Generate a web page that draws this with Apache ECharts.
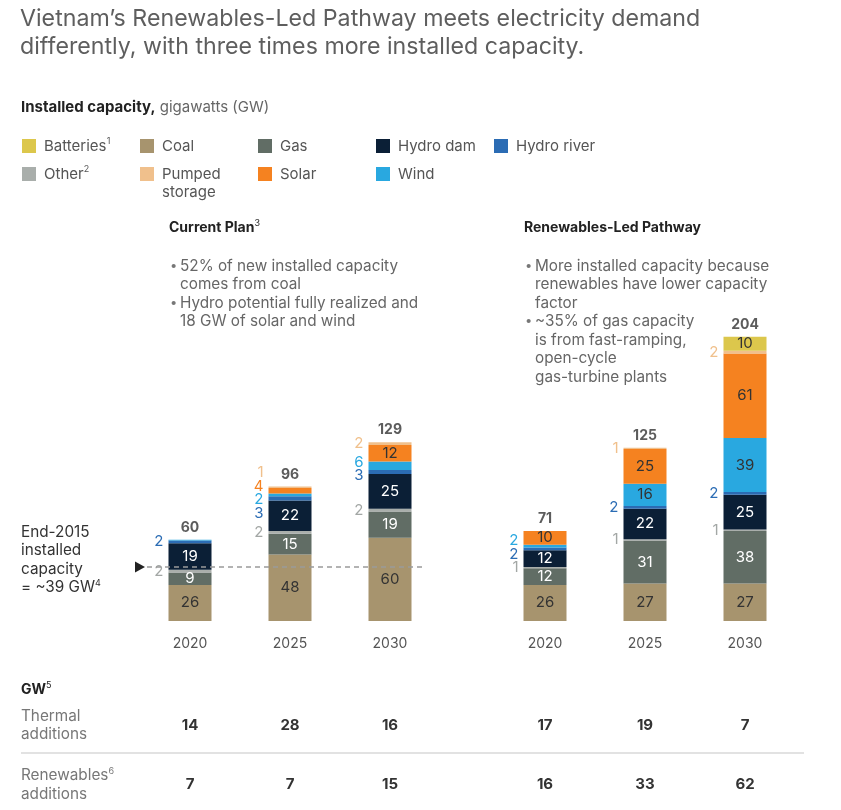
<!DOCTYPE html>
<html><head><meta charset="utf-8">
<script src="https://cdn.jsdelivr.net/npm/echarts@6/dist/echarts.min.js"></script>
<style>html,body{margin:0;padding:0;background:#fff}#c{width:841px;height:810px}</style>
</head><body><div id="c"></div>
<script>
// ---------- DATA ----------
const years = ['2020', '2025', '2030'];
// Current Plan (GW)
const coalCurrent       = [26, 48, 60];
const gasCurrent        = [9, 15, 19];
const otherCurrent      = [2, 2, 2];
const hydroDamCurrent   = [19, 22, 25];
const hydroRiverCurrent = [2, 3, 3];
const windCurrent       = [0.6, 2, 6];
const solarCurrent      = [0, 4, 12];
const pumpedCurrent     = [0, 1, 2];
const batteriesCurrent  = [0, 0, 0];
const totalsCurrent     = [60, 96, 129];
// Renewables-Led Pathway (GW)
const coalRenew       = [26, 27, 27];
const gasRenew        = [12, 31, 38];
const otherRenew      = [1, 1, 1];
const hydroDamRenew   = [12, 22, 25];
const hydroRiverRenew = [2, 2, 2];
const windRenew       = [2, 16, 39];
const solarRenew      = [10, 25, 61];
const pumpedRenew     = [0, 1, 2];
const batteriesRenew  = [0, 0, 10];
const totalsRenew     = [71, 125, 204];
// Additions table (GW): Current 2020/2025/2030, Renewables-Led 2020/2025/2030
const thermalAdditions    = [14, 28, 16, 17, 19, 7];
const renewablesAdditions = [7, 7, 15, 16, 33, 62];
const end2015Capacity = 39;
const legendOrder = ['Batteries', 'Coal', 'Gas', 'Hydro dam', 'Hydro river', 'Other', 'Pumped storage', 'Solar', 'Wind'];

// ---------- STYLE ----------
const FONT = 'Inter, "Liberation Sans", Arial, sans-serif';
const Y_MAX = 220, GRID_TOP = 316, GRID_H = 305;
const PPU = GRID_H / Y_MAX;
const LABEL_SPACING = 13.5;
const BODY = 15.3;

const defs = [
  { name: 'Coal',           color: '#a7946e', inside: '#333', side: '#a7946e', cp: coalCurrent,       rl: coalRenew },
  { name: 'Gas',            color: '#616d65', inside: '#fff', side: '#616d65', cp: gasCurrent,        rl: gasRenew },
  { name: 'Other',          color: '#a9aeab', inside: '#333', side: '#a3a7a5', cp: otherCurrent,      rl: otherRenew },
  { name: 'Hydro dam',      color: '#0b1f36', inside: '#fff', side: '#0b1f36', cp: hydroDamCurrent,   rl: hydroDamRenew },
  { name: 'Hydro river',    color: '#2b6cb4', inside: '#fff', side: '#2b6cb4', cp: hydroRiverCurrent, rl: hydroRiverRenew },
  { name: 'Wind',           color: '#29a8e0', inside: '#333', side: '#29a8e0', cp: windCurrent,       rl: windRenew },
  { name: 'Solar',          color: '#f58220', inside: '#333', side: '#f58220', cp: solarCurrent,      rl: solarRenew },
  { name: 'Pumped storage', color: '#f0c08c', inside: '#333', side: '#f0c08c', cp: pumpedCurrent,     rl: pumpedRenew },
  { name: 'Batteries',      color: '#dcc74c', inside: '#333', side: '#dcc74c', cp: batteriesCurrent,  rl: batteriesRenew }
];

// compute side-label offsets (1D cluster relaxation in value space)
function sideOffsets(key) {
  const res = defs.map(() => [0, 0, 0]);
  const s = LABEL_SPACING / PPU;
  for (let i = 0; i < years.length; i++) {
    let cum = 0; const items = [];
    defs.forEach((d, k) => {
      const v = d[key][i];
      if (v >= 1 && v < 9) items.push({ k, c: cum + v / 2 });
      cum += v;
    });
    let groups = items.map(it => ({ items: [it], mean: it.c }));
    let changed = true;
    while (changed) {
      changed = false;
      for (let g = 0; g < groups.length - 1; g++) {
        const A = groups[g], B = groups[g + 1];
        const aTop = A.mean + (A.items.length - 1) / 2 * s;
        const bBot = B.mean - (B.items.length - 1) / 2 * s;
        if (bBot - aTop < s) {
          const all = A.items.concat(B.items);
          groups.splice(g, 2, { items: all, mean: all.reduce((a, b) => a + b.c, 0) / all.length });
          changed = true; break;
        }
      }
    }
    groups.forEach(G => {
      const n = G.items.length;
      G.items.forEach((it, j) => {
        const pos = G.mean + (j - (n - 1) / 2) * s;
        res[it.k][i] = -(pos - it.c) * PPU;
      });
    });
  }
  return res;
}
const offCP = sideOffsets('cp'), offRL = sideOffsets('rl');

function makeData(d, k, key, offs) {
  return d[key].map((v, i) => {
    let label;
    if (v >= 9) label = { show: true, position: 'inside', color: d.inside };
    else if (v >= 1) label = { show: true, position: 'left', distance: 5, color: d.side, offset: [0, offs[k][i]] };
    else label = { show: false };
    return { value: v, label };
  });
}

const series = [];
['cp', 'rl'].forEach((key, gi) => {
  const offs = key === 'cp' ? offCP : offRL;
  defs.forEach((d, k) => {
    series.push({
      name: d.name, type: 'bar', stack: key, xAxisIndex: gi, yAxisIndex: gi,
      barWidth: 43, itemStyle: { color: d.color }, emphasis: { disabled: true },
      label: { fontSize: 15, fontFamily: FONT },
      data: makeData(d, k, key, offs), silent: true
    });
  });
  const totals = key === 'cp' ? totalsCurrent : totalsRenew;
  series.push({
    type: 'scatter', xAxisIndex: gi, yAxisIndex: gi, symbolSize: 0, silent: true,
    data: years.map((y, i) => defs.reduce((a, d) => a + d[key][i], 0)),
    label: { show: true, position: 'top', distance: 5, fontSize: 14, fontWeight: 'bold', color: '#333', fontFamily: FONT,
             formatter: p => String(totals[p.dataIndex]) }
  });
});

const sup = { 'Batteries': '1', 'Other': '2' };
const chart = echarts.init(document.getElementById('c'), null, { renderer: 'canvas' });
const axisX = { type: 'category', data: years, axisLine: { show: false }, axisTick: { show: false },
  axisLabel: { color: '#555', fontSize: 14, margin: 16, fontFamily: FONT } };
const axisY = { type: 'value', min: 0, max: Y_MAX, show: false };
chart.setOption({
  animation: false,
  textStyle: { fontFamily: FONT },
  grid: [
    { left: 140, width: 300, top: GRID_TOP, height: GRID_H },
    { left: 495, width: 300, top: GRID_TOP, height: GRID_H }
  ],
  xAxis: [Object.assign({ gridIndex: 0 }, axisX), Object.assign({ gridIndex: 1 }, axisX)],
  yAxis: [Object.assign({ gridIndex: 0 }, axisY), Object.assign({ gridIndex: 1 }, axisY)],
  legend: {
    left: 22, top: 137, width: 590, padding: 0, itemGap: 10, itemWidth: 14, itemHeight: 14,
    icon: 'rect', selectedMode: false,
    textStyle: { fontSize: 15, color: '#555', fontFamily: FONT, width: 86, overflow: 'break', lineHeight: 18,
      padding: [0, 0, 0, 3],
      rich: { s: { fontSize: 9, verticalAlign: 'top', color: '#555', lineHeight: 18, fontFamily: FONT } } },
    formatter: name => name + (sup[name] ? '{s|' + sup[name] + '}' : ''),
    data: legendOrder.map(n => n === 'Pumped storage'
      ? { name: n, textStyle: { padding: [18, 0, 0, 3] } } : { name: n })
  },
  series
});

// ---------- annotations ----------
const y39 = chart.convertToPixel({ yAxisIndex: 0 }, end2015Capacity);
// dashed End-2015 reference line, placed through the value axis
chart.setOption({ series: [{
  markLine: {
    silent: true, symbol: ['none', 'none'], label: { show: false },
    lineStyle: { color: '#9a9a9a', type: [5, 4], width: 1.5 },
    data: [[{ x: 147, y: y39 }, { x: 422, y: y39 }]]
  }
}] });

function T(text, x, y, o) {
  o = o || {};
  return { type: 'text', x, y, silent: true, z: 10,
    style: Object.assign({ text, fill: o.fill || '#555', fontSize: o.size || 15, fontWeight: o.weight || 'normal',
      fontFamily: FONT, verticalAlign: 'middle', align: o.align || 'left' }, o.extra || {}) };
}
const g = [];
g.push(T('Vietnam\u2019s Renewables-Led Pathway meets electricity demand', 20, 19, { size: 23.2, fill: '#5e5e5e' }));
g.push(T('differently, with three times more installed capacity.', 20, 47, { size: 23.2, fill: '#5e5e5e' }));
g.push(T('{b|Installed capacity,}{n| gigawatts (GW)}', 21, 107, { extra: { rich: {
  b: { fontSize: 15, fontWeight: 'bold', fill: '#222', fontFamily: FONT },
  n: { fontSize: 15, fill: '#666', fontFamily: FONT } } } }));
const supRich = { h: { fontSize: 14, fontWeight: 'bold', fill: '#222', fontFamily: FONT, lineHeight: 18 },
  s: { fontSize: 9, fill: '#222', fontFamily: FONT, verticalAlign: 'top', lineHeight: 18 } };
g.push(T('{h|Current Plan}{s|3}', 169, 228, { extra: { rich: supRich } }));
g.push(T('{h|Renewables-Led Pathway}', 524, 228, { extra: { rich: supRich } }));
function bullets(x, y0, lines) {
  lines.forEach((ln, i) => {
    const y = y0 + i * 18.5;
    if (ln[0]) g.push(T('\u2022', x, y, { size: 13, fill: '#777' }));
    g.push(T(ln[1], x + 10, y, { size: BODY, fill: '#666' }));
  });
}
bullets(170, 266, [[1, '52% of new installed capacity'], [0, 'comes from coal'],
  [1, 'Hydro potential fully realized and'], [0, '18 GW of solar and wind']]);
bullets(525, 266, [[1, 'More installed capacity because'], [0, 'renewables have lower capacity'], [0, 'factor'],
  [1, '~35% of gas capacity'], [0, 'is from fast-ramping,'], [0, 'open-cycle'], [0, 'gas-turbine plants']]);
['End-2015', 'installed', 'capacity'].forEach((t, i) => g.push(T(t, 21, 532 + i * 18.5, { size: BODY, fill: '#333' })));
g.push(T('{n|= ~39 GW}{s|4}', 21, 587.5, { extra: { rich: {
  n: { fontSize: BODY, fill: '#333', fontFamily: FONT, lineHeight: 18 },
  s: { fontSize: 9, fill: '#333', fontFamily: FONT, verticalAlign: 'top', lineHeight: 18 } } } }));
g.push({ type: 'polygon', silent: true, z: 10, shape: { points: [[135, y39 - 5.5], [145, y39], [135, y39 + 5.5]] }, style: { fill: '#222' } });

// table
g.push(T('{h|GW}{s|5}', 21, 690, { extra: { rich: {
  h: { fontSize: 14, fontWeight: 'bold', fill: '#222', fontFamily: FONT, lineHeight: 18 },
  s: { fontSize: 9, fill: '#222', fontFamily: FONT, verticalAlign: 'top', lineHeight: 18 } } } }));
g.push(T('Thermal', 21, 716, { size: BODY, fill: '#777' }));
g.push(T('additions', 21, 734.5, { size: BODY, fill: '#777' }));
g.push(T('{n|Renewables}{s|6}', 21, 775.5, { extra: { rich: {
  n: { fontSize: BODY, fill: '#777', fontFamily: FONT, lineHeight: 18 },
  s: { fontSize: 9, fill: '#777', fontFamily: FONT, verticalAlign: 'top', lineHeight: 18 } } } }));
g.push(T('additions', 21, 794, { size: BODY, fill: '#777' }));
g.push({ type: 'line', silent: true, shape: { x1: 21, y1: 753, x2: 804, y2: 753 }, style: { stroke: '#d9d9d9', lineWidth: 1.5 } });
for (let j = 0; j < 6; j++) {
  const x = chart.convertToPixel({ xAxisIndex: j < 3 ? 0 : 1 }, years[j % 3]);
  g.push(T(String(thermalAdditions[j]), x, 725, { size: 15, weight: 'bold', fill: '#333', align: 'center' }));
  g.push(T(String(renewablesAdditions[j]), x, 784, { size: 15, weight: 'bold', fill: '#333', align: 'center' }));
}
chart.setOption({ graphic: g });
</script>
</body></html>
